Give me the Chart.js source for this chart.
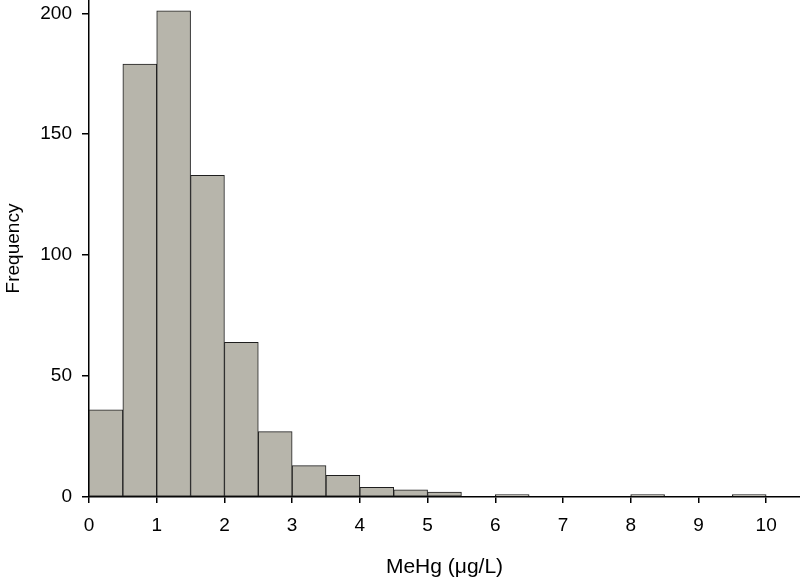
<!DOCTYPE html>
<html>
<head>
<meta charset="utf-8">
<script src="https://cdn.jsdelivr.net/npm/chart.js@4"></script>
<style>
    html, body { margin: 0; padding: 0; background: #fff; }
    #wrap { width: 800px; height: 582px; }
</style>
</head>
<body>
<div id="wrap"><canvas id="hist"></canvas></div>
<script>
// histogram bins (lower edge, width 0.5) and counts
const binStarts = [0, 0.5, 1, 1.5, 2, 2.5, 3, 3.5, 4, 4.5, 5, 5.5, 6, 6.5, 7, 7.5, 8, 8.5, 9, 9.5];
const counts = [36, 179, 201, 133, 64, 27, 13, 9, 4, 3, 2, 0, 1, 0, 0, 0, 1, 0, 0, 1];
const binWidth = 0.5;
const xTicks = [0, 1, 2, 3, 4, 5, 6, 7, 8, 9, 10];
const yTicks = [0, 50, 100, 150, 200];

const points = [];
binStarts.forEach((start, i) => {
    if (counts[i] > 0) {
        points.push({ x: start + binWidth / 2, y: counts[i] });
    }
});

const tickFont = { family: "Liberation Sans, Arial, sans-serif", size: 19 };
const titleFont = { family: "Liberation Sans, Arial, sans-serif", size: 21 };

new Chart(document.querySelector("#hist"), {
    type: "bar",
    data: {
        datasets: [
            {
                label: "MeHg",
                data: points,
                backgroundColor: "#b7b5ab",
                borderColor: "#1e1e1e",
                borderWidth: 1,
                borderSkipped: false,
                barPercentage: 1,
                categoryPercentage: 1,
            },
        ],
    },
    options: {
        responsive: true,
        maintainAspectRatio: false,
        animation: false,
        layout: { padding: 0 },
        plugins: {
            legend: { display: false },
            tooltip: { enabled: false },
        },
        scales: {
            x: {
                type: "linear",
                offset: false,
                min: 0,
                max: 10.5,
                afterBuildTicks: (scale) => {
                    scale.ticks = xTicks.map((v) => ({ value: v }));
                },
                afterFit: (scale) => {
                    scale.height = 85;
                    scale.paddingLeft = 0;
                    scale.paddingRight = 0;
                },
                grid: {
                    drawOnChartArea: false,
                    offset: false,
                    color: "#000",
                    tickLength: 6,
                    lineWidth: 1.5,
                },
                border: { color: "#000", width: 1.5 },
                ticks: {
                    color: "#000",
                    font: tickFont,
                    padding: 11,
                    maxRotation: 0,
                },
                title: {
                    display: true,
                    text: "MeHg (μg/L)",
                    color: "#000",
                    font: titleFont,
                    padding: { top: 0, bottom: 2 },
                },
            },
            y: {
                min: 0,
                max: 205.5,
                afterBuildTicks: (scale) => {
                    scale.ticks = yTicks.map((v) => ({ value: v }));
                },
                afterFit: (scale) => {
                    scale.width = 89;
                    scale.paddingTop = 0;
                    scale.paddingBottom = 0;
                },
                grid: {
                    drawOnChartArea: false,
                    color: "#000",
                    tickLength: 7,
                    lineWidth: 1.5,
                },
                border: { color: "#000", width: 1.5 },
                ticks: {
                    color: "#000",
                    font: tickFont,
                    padding: 10,
                },
                title: {
                    display: true,
                    text: "Frequency",
                    color: "#000",
                    font: { family: titleFont.family, size: 19 },
                    padding: { top: 2, bottom: 0 },
                },
            },
        },
    },
});
</script>
</body>
</html>
